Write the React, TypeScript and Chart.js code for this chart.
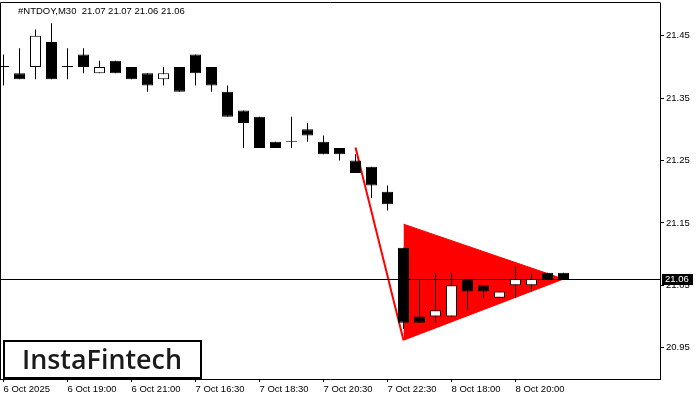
import React, { useEffect, useRef } from 'react';
import { Chart, registerables } from 'chart.js';

Chart.register(...registerables);

const symbolTitle = '#NTDOY,M30  21.07 21.07 21.06 21.06';

const opens = [21.40, 21.39, 21.40, 21.44, 21.40, 21.42, 21.39, 21.41, 21.40, 21.39, 21.38, 21.40, 21.42, 21.40, 21.36, 21.33, 21.32, 21.28, 21.28, 21.30, 21.28, 21.27, 21.25, 21.24, 21.20, 21.11, 21.00, 21.00, 21.00, 21.06, 21.05, 21.03, 21.05, 21.05, 21.07, 21.07];
const highs = [21.42, 21.43, 21.46, 21.47, 21.43, 21.43, 21.41, 21.41, 21.40, 21.39, 21.40, 21.40, 21.42, 21.40, 21.37, 21.33, 21.32, 21.28, 21.32, 21.31, 21.29, 21.27, 21.26, 21.24, 21.21, 21.11, 21.06, 21.07, 21.07, 21.06, 21.05, 21.04, 21.08, 21.07, 21.07, 21.07];
const lows = [21.37, 21.38, 21.38, 21.38, 21.38, 21.39, 21.39, 21.39, 21.38, 21.36, 21.37, 21.36, 21.37, 21.36, 21.32, 21.27, 21.27, 21.27, 21.27, 21.28, 21.26, 21.25, 21.23, 21.19, 21.17, 20.98, 20.99, 20.99, 21.00, 21.01, 21.03, 21.03, 21.03, 21.04, 21.06, 21.06];
const closes = [21.40, 21.38, 21.45, 21.38, 21.40, 21.40, 21.40, 21.39, 21.38, 21.37, 21.39, 21.36, 21.39, 21.37, 21.32, 21.31, 21.27, 21.27, 21.28, 21.29, 21.26, 21.26, 21.23, 21.21, 21.18, 20.99, 20.99, 21.01, 21.05, 21.04, 21.04, 21.04, 21.06, 21.06, 21.06, 21.06];

const xTickIndex = [0, 4, 8, 12, 16, 20, 24, 28, 32];
const xTickLabels = ['6 Oct 2025', '6 Oct 19:00', '6 Oct 21:00', '7 Oct 16:30', '7 Oct 18:30', '7 Oct 20:30', '7 Oct 22:30', '8 Oct 18:00', '8 Oct 20:00'];
const yTicks = [20.95, 21.05, 21.15, 21.25, 21.35, 21.45];
const lastPrice = 21.06;

const impulseLine = [{ x: 22, y: 21.271 }, { x: 25, y: 20.962 }];
const pennantUpper = [{ x: 25, y: 21.148 }, { x: 35, y: 21.06 }];
const pennantLower = [{ x: 25, y: 20.962 }, { x: 35, y: 21.06 }];

const yMin = 20.8998;
const yMax = 21.5024;
const xMin = -0.21875;
const xMax = 41.03;

const FONT = 'Liberation Sans';

const zeroPad = (s: any) => {
  s.paddingTop = 0;
  s.paddingBottom = 0;
  s.paddingLeft = 0;
  s.paddingRight = 0;
};

const overlay = {
  id: 'overlay',
  afterDatasetsDraw(chart: any) {
    const ctx = chart.ctx;
    const a = chart.chartArea;
    const y = Math.round(chart.scales.y.getPixelForValue(lastPrice)) + 0.5;
    ctx.save();
    ctx.strokeStyle = '#000';
    ctx.lineWidth = 1;
    ctx.beginPath();
    ctx.moveTo(0, y);
    ctx.lineTo(a.right, y);
    ctx.stroke();
    ctx.restore();
  },
  afterDraw(chart: any) {
    const ctx = chart.ctx;
    const a = chart.chartArea;
    ctx.save();
    // frame top & left
    ctx.strokeStyle = '#000';
    ctx.lineWidth = 1;
    ctx.beginPath();
    ctx.moveTo(0.5, a.bottom);
    ctx.lineTo(0.5, a.top - 0.5);
    ctx.lineTo(a.right + 0.5, a.top - 0.5);
    ctx.stroke();

    // title
    ctx.fillStyle = '#000';
    ctx.font = `9.5px "${FONT}"`;
    ctx.textBaseline = 'alphabetic';
    ctx.textAlign = 'left';
    ctx.fillText(symbolTitle, 18, 14);

    // price box
    const py = chart.scales.y.getPixelForValue(lastPrice);
    ctx.fillStyle = '#000';
    ctx.fillRect(a.right + 2, Math.round(py) - 5, 31, 11);
    ctx.fillStyle = '#fff';
    ctx.textBaseline = 'middle';
    ctx.fillText(lastPrice.toFixed(2), a.right + 5, Math.round(py) + 0.5);

    // logo
    ctx.fillStyle = '#fff';
    ctx.fillRect(3, 340, 199, 39);
    ctx.strokeStyle = '#000';
    ctx.lineWidth = 2;
    ctx.strokeRect(4, 341, 197, 37);
    ctx.fillStyle = '#1a1a1a';
    ctx.font = `600 27px "Open Sans"`;
    ctx.textBaseline = 'alphabetic';
    const txt = 'InstaFintech';
    const w = ctx.measureText(txt).width;
    ctx.translate(22, 369);
    ctx.scale(160 / w, 1);
    ctx.fillText(txt, 0, 0);
    ctx.restore();
  },
};

export default function App() {
  const ref = useRef<HTMLCanvasElement | null>(null);
  useEffect(() => {
    document.body.style.margin = '0';
    const canvas = ref.current;
    if (!canvas) return;
    const chart = new Chart(canvas, {
      type: 'bar',
      data: {
        datasets: [
          {
            type: 'bar',
            label: 'body',
            data: opens.map((o, i) => ({ x: i, y: [o, closes[i]] })) as any,
            backgroundColor: closes.map((c, i) => (c > opens[i] ? '#ffffff' : '#000000')),
            borderColor: '#000',
            borderWidth: 1,
            borderSkipped: false,
            barThickness: 11,
            minBarLength: 1,
            grouped: false,
            inflateAmount: 0,
            order: 0,
          } as any,
          {
            type: 'bar',
            label: 'wick',
            data: lows.map((l, i) => ({ x: i, y: [l, highs[i]] })) as any,
            backgroundColor: '#000',
            borderWidth: 0,
            barThickness: 1,
            grouped: false,
            inflateAmount: 0,
            order: 1,
          } as any,
          {
            type: 'line',
            label: 'pennantUpper',
            data: pennantUpper,
            borderColor: '#ff0000',
            backgroundColor: '#ff0000',
            borderWidth: 1,
            pointRadius: 0,
            fill: '+1',
            order: 3,
          } as any,
          {
            type: 'line',
            label: 'pennantLower',
            data: pennantLower,
            borderColor: '#ff0000',
            backgroundColor: '#ff0000',
            borderWidth: 1,
            pointRadius: 0,
            fill: false,
            order: 3,
          } as any,
          {
            type: 'line',
            label: 'impulse',
            data: impulseLine,
            borderColor: '#ff0000',
            borderWidth: 2,
            pointRadius: 0,
            fill: false,
            order: 2,
          } as any,
        ],
      },
      options: {
        responsive: false,
        animation: false,
        devicePixelRatio: 1,
        layout: { padding: { left: 0, top: 3, right: 0, bottom: 0 } },
        plugins: { legend: { display: false }, tooltip: { enabled: false }, title: { display: false } },
        scales: {
          x: {
            type: 'linear',
            min: xMin,
            max: xMax,
            offset: false,
            grid: { display: true, drawOnChartArea: false, drawTicks: true, tickLength: 3, color: '#000', offset: false },
            border: { display: true, color: '#000', width: 1 },
            afterBuildTicks: (s: any) => {
              s.ticks = xTickIndex.map((v) => ({ value: v }));
            },
            afterFit: (s: any) => {
              s.height = 21;
              zeroPad(s);
            },
            ticks: {
              autoSkip: false,
              maxRotation: 0,
              minRotation: 0,
              align: 'start',
              padding: 2,
              color: '#000',
              font: { family: FONT, size: 9.5 },
              callback: (_v: any, i: number) => xTickLabels[i],
            },
          } as any,
          y: {
            type: 'linear',
            position: 'right',
            min: yMin,
            max: yMax,
            grid: { display: true, drawOnChartArea: false, drawTicks: true, tickLength: 4, color: '#000' },
            border: { display: true, color: '#000', width: 1 },
            afterBuildTicks: (s: any) => {
              s.ticks = yTicks.map((v) => ({ value: v }));
            },
            afterFit: (s: any) => {
              s.width = 40;
              zeroPad(s);
            },
            ticks: {
              padding: 2,
              color: '#000',
              font: { family: FONT, size: 9.5 },
              callback: (v: any) => Number(v).toFixed(2),
            },
          } as any,
        },
      },
      plugins: [overlay],
    });
    return () => chart.destroy();
  }, []);
  return (
    <div style={{ width: 700, height: 400, position: 'relative' }}>
      <canvas ref={ref} width={700} height={400} style={{ display: 'block' }} />
    </div>
  );
}
